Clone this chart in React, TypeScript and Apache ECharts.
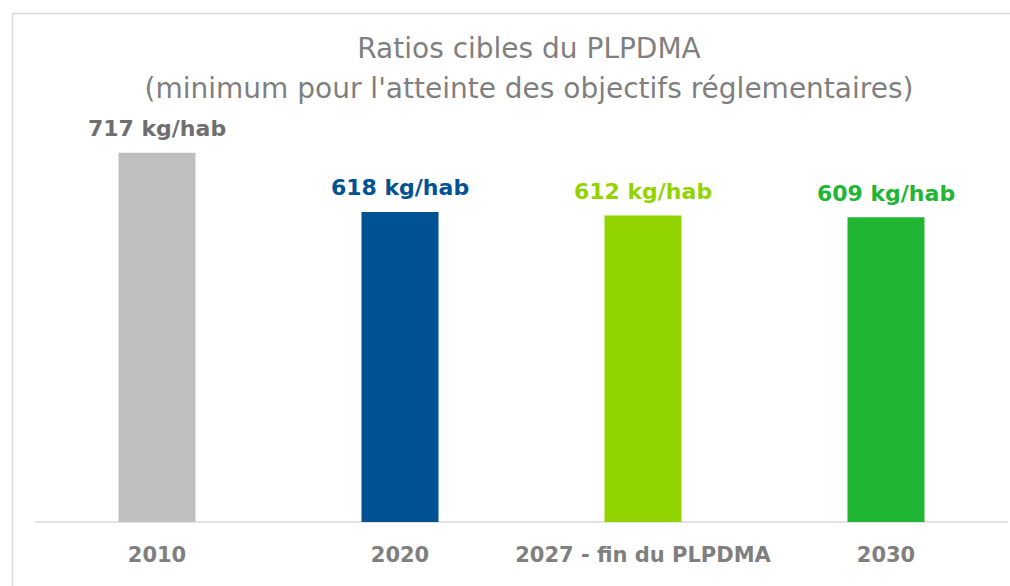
import React, { useEffect, useRef } from "react";
import * as echarts from "echarts";

const categories = ["2010", "2020", "2027 - fin du PLPDMA", "2030"];
const values = [717, 618, 612, 609];
const barColors = ["#bfbfbf", "#005293", "#92d400", "#21b534"];
const labelColors = ["#6f6f6f", "#005293", "#92d400", "#21b534"];
const titleLines = ["Ratios cibles du PLPDMA", "(minimum pour l'atteinte des objectifs réglementaires)"];

export default function App() {
  const ref = useRef<HTMLDivElement>(null);
  useEffect(() => {
    if (!ref.current) return;
    const chart = echarts.init(ref.current, null, { renderer: "svg" });
    chart.setOption({
      animation: false,
      backgroundColor: "#ffffff",
      title: {
        text: titleLines.join("\n"),
        left: 524,
        textAlign: "center",
        top: 23,
        textStyle: {
          color: "#7f7f7f",
          fontSize: 28,
          fontWeight: "normal",
          fontFamily: "DejaVu Sans",
          lineHeight: 40,
        },
      },
      graphic: [
        {
          type: "rect",
          shape: { x: 12.5, y: 13.5, width: 1200, height: 800 },
          style: { fill: "none", stroke: "#d9d9d9", lineWidth: 1.5 },
          silent: true,
        },
      ],
      grid: { left: 35.5, right: 2.5, top: 103, bottom: 64, containLabel: false },
      xAxis: {
        type: "category",
        data: categories,
        axisLine: { lineStyle: { color: "#d9d9d9", width: 1.5 } },
        axisTick: { show: false },
        axisLabel: {
          interval: 0,
          color: "#7f7f7f",
          fontSize: 21,
          fontWeight: "bold",
          fontFamily: "DejaVu Sans",
          margin: 22,
        },
      },
      yAxis: {
        type: "value",
        min: 100,
        max: 800,
        show: false,
        splitLine: { show: false },
      },
      series: [
        {
          type: "bar",
          barWidth: 77,
          data: values.map((v, i) => ({
            value: v,
            itemStyle: { color: barColors[i] },
            label: { color: labelColors[i] },
          })),
          label: {
            show: true,
            position: "top",
            distance: 13,
            fontSize: 22,
            fontWeight: "bold",
            fontFamily: "DejaVu Sans",
            formatter: (p: any) => `${p.value} kg/hab`,
          },
        },
      ],
    });
    return () => chart.dispose();
  }, []);
  return <div ref={ref} style={{ position: "absolute", left: 0, top: 0, width: 1010, height: 586 }} />;
}
